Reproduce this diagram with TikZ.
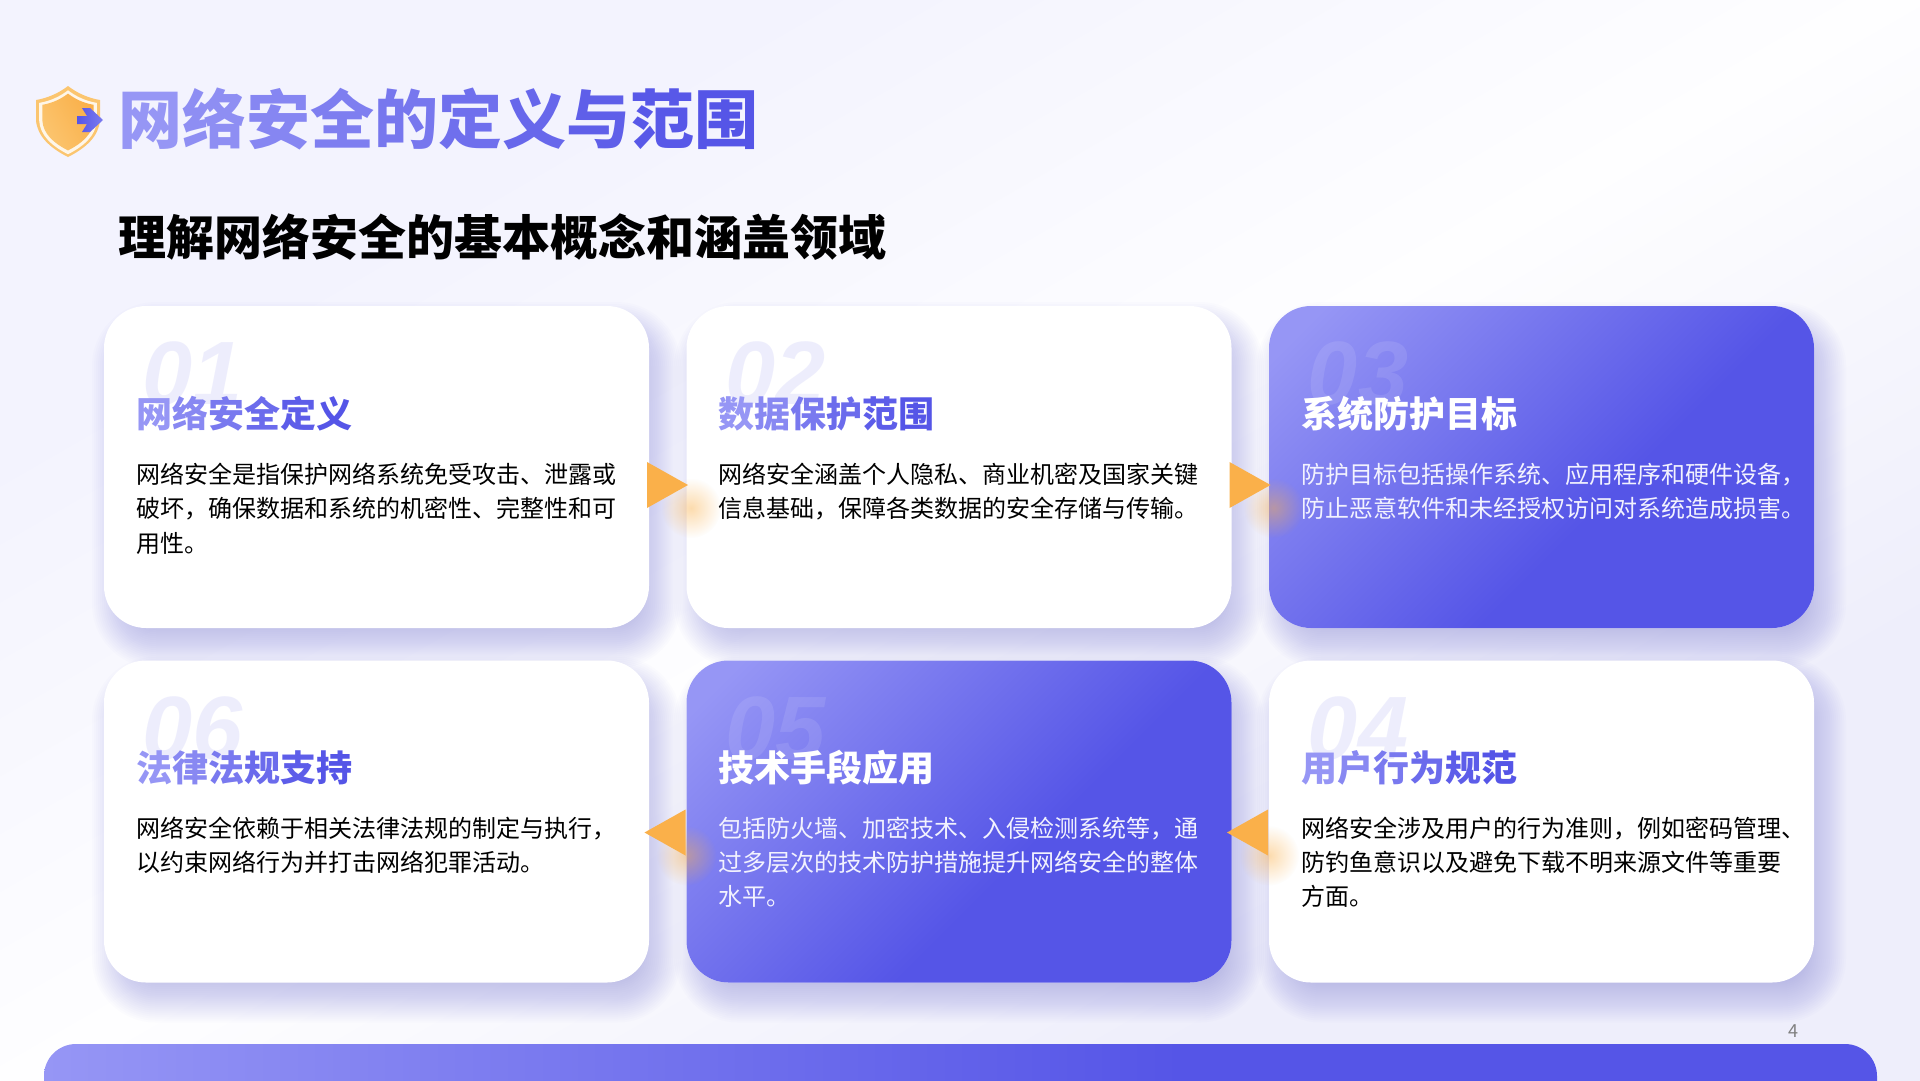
\documentclass[tikz,border=0pt]{standalone}
\usepackage{fontspec}
\usepackage{xcolor}
\setmainfont{Noto Sans CJK SC}
\newfontfamily\numfont{Liberation Sans}
\newfontfamily\heavyfont{Noto Sans CJK SC Black}
\usetikzlibrary{shapes.geometric, calc, fadings, backgrounds}
\definecolor{lightindigo}{HTML}{9696F5}
\definecolor{darkindigo}{HTML}{5555E7}
\definecolor{warmgold}{HTML}{FAB04A}
\definecolor{softgold}{HTML}{FBC56F}
\definecolor{paleink}{HTML}{F2F2FE}
\definecolor{pagetl}{HTML}{F3F3FE}
\definecolor{pagemid}{HTML}{FEFEFF}
\definecolor{pagebr}{HTML}{EEEEFB}
\pgfdeclarehorizontalshading{cardgrad}{100bp}{color(0bp)=(lightindigo); color(19bp)=(lightindigo); color(58bp)=(darkindigo); color(100bp)=(darkindigo)}
\pgfdeclarehorizontalshading{bargrad}{100bp}{color(0bp)=(lightindigo); color(25bp)=(lightindigo); color(56bp)=(darkindigo); color(100bp)=(darkindigo)}
\pgfdeclarehorizontalshading{pagegrad}{100bp}{color(0bp)=(pagetl); color(30bp)=(pagetl); color(50bp)=(pagemid); color(70bp)=(pagebr); color(100bp)=(pagebr)}
\tikzfading[name=numfade, top color=transparent!0, bottom color=transparent!90]
\tikzfading[name=glowfade, inner color=transparent!55, outer color=transparent!100]
% character by character colour run
\newcount\gradpct
\newcount\gradstepsize
\newcommand\gradtext[2]{\gradpct=100 \gradstepsize=#1\relax\gradrun#2\relax}
\def\gradone#1{\edef\gradcol{lightindigo!\the\gradpct!darkindigo}\textcolor{\gradcol}{#1}%
  \advance\gradpct by -\gradstepsize \ifnum\gradpct<0 \gradpct=0 \fi}
\def\gradrun#1{\ifx#1\relax\else\gradone{#1}\expandafter\gradrun\fi}
\tikzstyle{whitecard} =
[rectangle, rounded corners=42pt, minimum width=545pt, minimum height=322pt,
inner sep=0pt, outer sep=0pt, fill=white]
\tikzstyle{bluecard} =
[whitecard, shading=cardgrad, shading angle=-45]
\tikzstyle{cardtitle} =
[anchor=west, inner sep=0pt, font=\fontsize{36}{40}\heavyfont]
\tikzstyle{cardbody} =
[anchor=north west, inner sep=0pt, align=left, text=black,
font=\fontsize{24}{34.3}\selectfont]
\tikzstyle{lightbody} = [cardbody, text=paleink]
\tikzstyle{arrowright} =
[isosceles triangle, isosceles triangle stretches, minimum width=46pt,
minimum height=41pt, inner sep=0pt, outer sep=0pt, fill=warmgold]
\tikzstyle{arrowleft} = [arrowright, shape border rotate=180]
\tikzstyle{glow} = [fill=warmgold, path fading=glowfade]
\newcommand\softshadow[1]{%
  \foreach \grow in {-20,-18,...,22} {
    \fill [darkindigo, opacity=.015, rounded corners=42pt+\grow pt]
      ($(#1.north west)+(10-\grow,18-\grow)$) rectangle ($(#1.south east)+(10+\grow,18+\grow)$);
  }}
\newcommand\cardnum[3]{%
  \begin{scope}[shift={($(#1.north west)+(89,68)$)}, scope fading=numfade,
      fit fading=false, fading transform={xscale=4, yscale=.7}]
    \node [inner sep=0pt, text=#3, text opacity=.1,
      font=\fontsize{90}{90}\numfont\bfseries\itshape] (#1num) {#2};
  \end{scope}}
\begin{document}
\begin{tikzpicture}[x=1pt, y=-1pt, node distance=582.5pt]
  \useasboundingbox (0,0) rectangle (1920,1080);
  \clip (0,0) rectangle (1920,1080);
  % 1st row cards
  \node [whitecard] (card1) at (376.5,467) {};
  \node [whitecard, right of=card1] (card2) {};
  \node [bluecard, right of=card2] (card3) {};
  % 2nd row cards
  \node [whitecard, below of=card1, node distance=354.5pt] (card6) {};
  \node [bluecard, right of=card6] (card5) {};
  \node [whitecard, right of=card5] (card4) {};
  % page ground and card shadows
  \begin{pgfonlayer}{background}
    \shade [shading=pagegrad, shading angle=-60] (0,0) rectangle (1920,1080);
    \softshadow{card1}
    \softshadow{card2}
    \softshadow{card3}
    \softshadow{card4}
    \softshadow{card5}
    \softshadow{card6}
  \end{pgfonlayer}
  % bottom bar
  \node [rectangle, rounded corners=32pt, minimum width=1833pt, minimum height=80pt,
    inner sep=0pt, shading=bargrad, shading angle=0] (bar) at (960.5,1084) {};
  % arrow glows
  \fill [glow] ($(card1.east)+(42,41)$) circle (30);
  \fill [glow] ($(card2.east)+(42,41)$) circle (30);
  \fill [glow] ($(card5.west)+(0,34)$) circle (30);
  \fill [glow] ($(card4.west)+(0,34)$) circle (30);
  % arrows
  \node [arrowright, anchor=apex] (arrow12) at ($(card1.east)+(39,18)$) {};
  \node [arrowright, anchor=apex] (arrow23) at ($(card2.east)+(39,18)$) {};
  \node [arrowleft, anchor=apex] (arrow65) at ($(card5.west)+(-42,11)$) {};
  \node [arrowleft, anchor=apex] (arrow54) at ($(card4.west)+(-42,11)$) {};
  % big numbers
  \cardnum{card1}{01}{darkindigo}
  \cardnum{card2}{02}{darkindigo}
  \cardnum{card3}{03}{white}
  \cardnum{card4}{04}{darkindigo}
  \cardnum{card5}{05}{white}
  \cardnum{card6}{06}{darkindigo}
  % card titles
  \node [cardtitle] (title1) at ($(card1.north west)+(32,108)$) {\gradtext{22}{网络安全定义}};
  \node [cardtitle] (title2) at ($(card2.north west)+(32,108)$) {\gradtext{22}{数据保护范围}};
  \node [cardtitle, text=white] (title3) at ($(card3.north west)+(32,108)$) {系统防护目标};
  \node [cardtitle] (title4) at ($(card4.north west)+(32,107)$) {\gradtext{22}{用户行为规范}};
  \node [cardtitle, text=white] (title5) at ($(card5.north west)+(32,107)$) {技术手段应用};
  \node [cardtitle] (title6) at ($(card6.north west)+(32,107)$) {\gradtext{22}{法律法规支持}};
  % card texts
  \node [cardbody] (body1) at ($(card1.north west)+(32,157)$)
   {网络安全是指保护网络系统免受攻击、泄露或\\破坏，确保数据和系统的机密性、完整性和可\\用性。};
  \node [cardbody] (body2) at ($(card2.north west)+(32,157)$)
   {网络安全涵盖个人隐私、商业机密及国家关键\\信息基础，保障各类数据的安全存储与传输。};
  \node [lightbody] (body3) at ($(card3.north west)+(32,157)$)
   {防护目标包括操作系统、应用程序和硬件设备，\\防止恶意软件和未经授权访问对系统造成损害。};
  \node [cardbody] (body4) at ($(card4.north west)+(32,156)$)
   {网络安全涉及用户的行为准则，例如密码管理、\\防钓鱼意识以及避免下载不明来源文件等重要\\方面。};
  \node [lightbody] (body5) at ($(card5.north west)+(32,156)$)
   {包括防火墙、加密技术、入侵检测系统等，通\\过多层次的技术防护措施提升网络安全的整体\\水平。};
  \node [cardbody] (body6) at ($(card6.north west)+(32,156)$)
   {网络安全依赖于相关法律法规的制定与执行，\\以约束网络行为并打击网络犯罪活动。};
  % headings
  \node [anchor=west, inner sep=0pt, font=\fontsize{64}{70}\heavyfont] (heading)
   at (118,119) {\gradtext{12}{网络安全的定义与范围}};
  \node [anchor=west, inner sep=0pt, text=black, font=\fontsize{48}{54}\selectfont\bfseries] (subheading)
   at (118,237) {理解网络安全的基本概念和涵盖领域};
  % shield icon
  \def\shieldpath{(0,-34) .. controls (-9,-27) and (-20,-22) .. (-32,-20)
    -- (-32,0) .. controls (-31,16) and (-18,28) .. (0,37)
    .. controls (18,28) and (31,16) .. (32,0) -- (32,-20)
    .. controls (20,-22) and (9,-27) .. (0,-34) -- cycle}
  \begin{scope}[shift={(68,120)}]
    \fill [softgold] \shieldpath;
    \begin{scope}[scale=.9, yshift=-1pt]
      \fill [white!85!softgold] \shieldpath;
    \end{scope}
    \begin{scope}[scale=.8, yshift=-1pt]
      \shade [left color=warmgold, right color=softgold, shading angle=-60] \shieldpath;
    \end{scope}
  \end{scope}
  \shade [left color=darkindigo, right color=lightindigo!60!darkindigo]
    (77,116) -- (87,116) -- (82,108) -- (90,108) -- (103,120) -- (90,132) -- (82,132) -- (87,124) -- (77,124) -- cycle;
  % page number
  \node [inner sep=0pt, text=black!50, font=\fontsize{18}{20}\selectfont] (pagenum) at (1793,1031) {4};
\end{tikzpicture}
\end{document}
